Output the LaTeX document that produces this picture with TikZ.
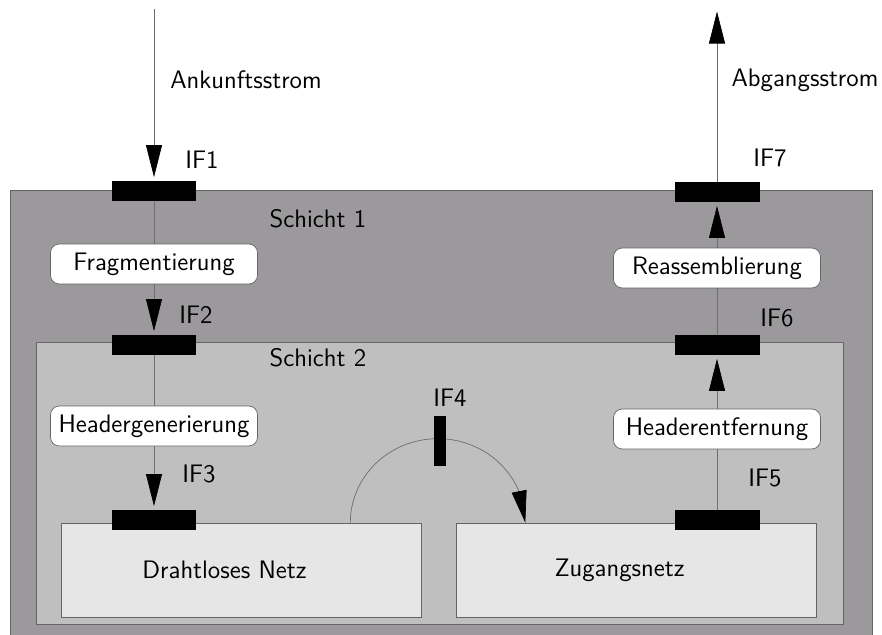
\documentclass[tikz,border=0pt]{standalone}
\usetikzlibrary{arrows.meta,bending}

\definecolor{schichteins}{RGB}{155,153,156}
\definecolor{schichtzwei}{RGB}{191,191,191}
\definecolor{netzgrau}{RGB}{230,230,230}
\definecolor{rahmen}{RGB}{100,100,100}
\definecolor{linie}{RGB}{110,110,110}

\begin{document}
\begin{tikzpicture}[
    x=0.02cm, y=-0.02cm,
    every node/.style={font=\sffamily\fontsize{14.4}{17}\selectfont},
    layer/.style={draw=rahmen, thin},
    netz/.style={
        rectangle,
        draw=rahmen,
        fill=netzgrau,
        minimum width=7.2cm,
        minimum height=1.88cm
    },
    proc/.style={
        rectangle,
        draw=rahmen,
        fill=white,
        rounded corners=5pt,
        inner sep=0pt,
        minimum width=4.14cm,
        minimum height=0.8cm
    },
    iface/.style={rectangle, fill=black, inner sep=0pt, minimum width=1.7cm, minimum height=0.4cm},
    ifacev/.style={iface, minimum width=0.24cm, minimum height=1.02cm},
    flow/.style={draw=linie, thin},
    arrow/.style={flow, -{Triangle[length=6.4mm, width=3.2mm, color=black]}, shorten >=2pt},
    bogen/.style={flow, -{Triangle[length=6.4mm, width=3mm, color=black, flex]}}
]

\clip (0,0) rectangle (882,635);

% Schichten
\draw[layer, fill=schichteins] (10,190) rectangle (872,660);
\draw[layer, fill=schichtzwei] (36,342) rectangle (843,624);
\node (schicht1) at (318,219) {Schicht 1};
\node (schicht2) at (318,358) {Schicht 2};

% Netze
\node[netz] (drahtlos) at (241,570) {Drahtloses Netz\hspace*{1.3em}};
\node[netz] (zugang) at (636,570) {Zugangsnetz\hspace*{1.3em}};

% Verarbeitung
\node[proc] (frag) at (154,264) {Fragmentierung};
\node[proc] (hgen) at (154,426) {Headergenerierung};
\node[proc] (reas) at (717,268) {Reassemblierung};
\node[proc] (hent) at (717,429) {Headerentfernung};

% Schnittstellen
\node[iface] (if1) at (154,191) {};
\node[iface] (if2) at (154,345) {};
\node[iface] (if3) at (154,520) {};
\node[iface] (if5) at (717,520) {};
\node[iface] (if6) at (717,345) {};
\node[iface] (if7) at (717,192) {};

\node (lif1) at (202,160) {IF1};
\node (lif2) at (196,315) {IF2};
\node (lif3) at (199,474) {IF3};
\node (lif4) at (450,398) {IF4};
\node (lif5) at (765,478) {IF5};
\node (lif6) at (777,318) {IF6};
\node (lif7) at (770,158) {IF7};

\coordinate (in) at (154,9);
\coordinate (out) at (717,8);
\node (ankunft) at (246,80) {Ankunftsstrom};
\node (abgang) at (805,80) {Abgangsstrom};

% Pfeile
\draw[arrow] (in) -- (if1.north);
\draw[flow] (if1) -- (frag);
\draw[arrow] (frag) -- (if2);
\draw[flow] (if2) -- (hgen);
\draw[arrow] (hgen) -- (if3);

\draw[flow] (if5) -- (hent);
\draw[arrow] (hent) -- (if6);
\draw[flow] (if6) -- (reas);
\draw[arrow] (reas) -- (if7);
\draw[arrow] (if7) -- (out);

\draw[bogen] ([xshift=-1.42cm]drahtlos.north east) arc[start angle=180, end angle=0, x radius=1.75cm, y radius=1.68cm];
\node[ifacev] (if4) at (440,441) {};

\end{tikzpicture}
\end{document}
